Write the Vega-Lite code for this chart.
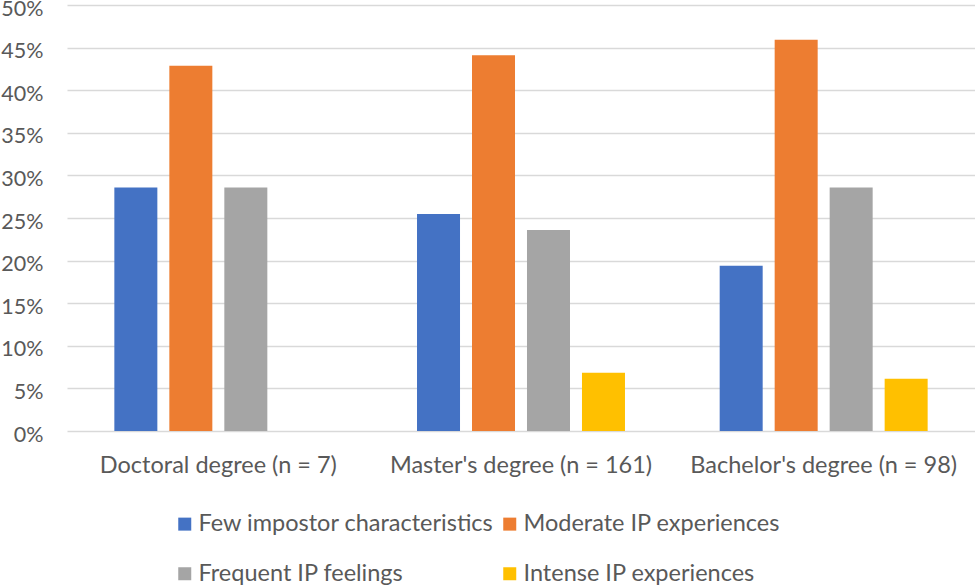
{
  "$schema": "https://vega.github.io/schema/vega-lite/v6.json",
  "autosize": "none",
  "width": 908,
  "height": 426,
  "padding": {"left": 67, "top": 5, "right": 0, "bottom": 155},
  "background": "white",
  "config": {
    "view": {"stroke": null},
    "font": "Lato",
    "axis": {"labelFont": "Lato", "labelColor": "#595959", "labelFontSize": 23.5, "titleFont": "Lato"},
    "legend": {"labelFont": "Lato"}
  },
  "data": {
    "values": [
      {"degree": "Doctoral degree (n = 7)", "category": "Few impostor characteristics", "value": 0.2857},
      {"degree": "Doctoral degree (n = 7)", "category": "Moderate IP experiences", "value": 0.4286},
      {"degree": "Doctoral degree (n = 7)", "category": "Frequent IP feelings", "value": 0.2857},
      {"degree": "Doctoral degree (n = 7)", "category": "Intense IP experiences", "value": 0},
      {"degree": "Master's degree (n = 161)", "category": "Few impostor characteristics", "value": 0.2547},
      {"degree": "Master's degree (n = 161)", "category": "Moderate IP experiences", "value": 0.4410},
      {"degree": "Master's degree (n = 161)", "category": "Frequent IP feelings", "value": 0.2360},
      {"degree": "Master's degree (n = 161)", "category": "Intense IP experiences", "value": 0.0683},
      {"degree": "Bachelor's degree (n = 98)", "category": "Few impostor characteristics", "value": 0.1939},
      {"degree": "Bachelor's degree (n = 98)", "category": "Moderate IP experiences", "value": 0.4592},
      {"degree": "Bachelor's degree (n = 98)", "category": "Frequent IP feelings", "value": 0.2857},
      {"degree": "Bachelor's degree (n = 98)", "category": "Intense IP experiences", "value": 0.0612}
    ]
  },
  "mark": {"type": "bar"},
  "encoding": {
    "x": {
      "field": "degree",
      "type": "nominal",
      "sort": ["Doctoral degree (n = 7)", "Master's degree (n = 161)", "Bachelor's degree (n = 98)"],
      "scale": {"paddingInner": 0, "paddingOuter": 0},
      "axis": {"title": null, "labelAngle": 0, "domain": false, "ticks": false, "tickSize": 0, "labelPadding": 22, "grid": false, "labelLimit": 400}
    },
    "xOffset": {
      "field": "category",
      "type": "nominal",
      "sort": ["Few impostor characteristics", "Moderate IP experiences", "Frequent IP feelings", "Intense IP experiences"],
      "scale": {"paddingInner": 0.218, "paddingOuter": 0.861}
    },
    "y": {
      "field": "value",
      "type": "quantitative",
      "scale": {"domain": [0, 0.5], "nice": false},
      "axis": {
        "title": null,
        "format": ".0%",
        "values": [0, 0.05, 0.1, 0.15, 0.2, 0.25, 0.3, 0.35, 0.4, 0.45, 0.5],
        "domain": false,
        "ticks": false,
        "tickSize": 0,
        "labelFontSize": 21.5,
        "labelPadding": 24,
        "labelOffset": 4,
        "grid": true,
        "gridColor": "#d9d9d9",
        "gridWidth": 1.5
      }
    },
    "color": {
      "field": "category",
      "type": "nominal",
      "sort": ["Few impostor characteristics", "Moderate IP experiences", "Frequent IP feelings", "Intense IP experiences"],
      "scale": {
        "domain": ["Few impostor characteristics", "Moderate IP experiences", "Frequent IP feelings", "Intense IP experiences"],
        "range": ["#4472C4", "#ED7D31", "#A5A5A5", "#FFC000"]
      },
      "legend": {
        "title": null,
        "orient": "none",
        "direction": "horizontal",
        "columns": 2,
        "legendX": 106,
        "legendY": 507,
        "padding": 0,
        "symbolType": "square",
        "symbolSize": 169,
        "symbolStrokeWidth": 0,
        "symbolOpacity": 1,
        "labelFontSize": 23.5,
        "labelColor": "#595959",
        "labelOffset": 2,
        "rowPadding": 25,
        "columnPadding": 4,
        "labelLimit": 400
      }
    }
  }
}
